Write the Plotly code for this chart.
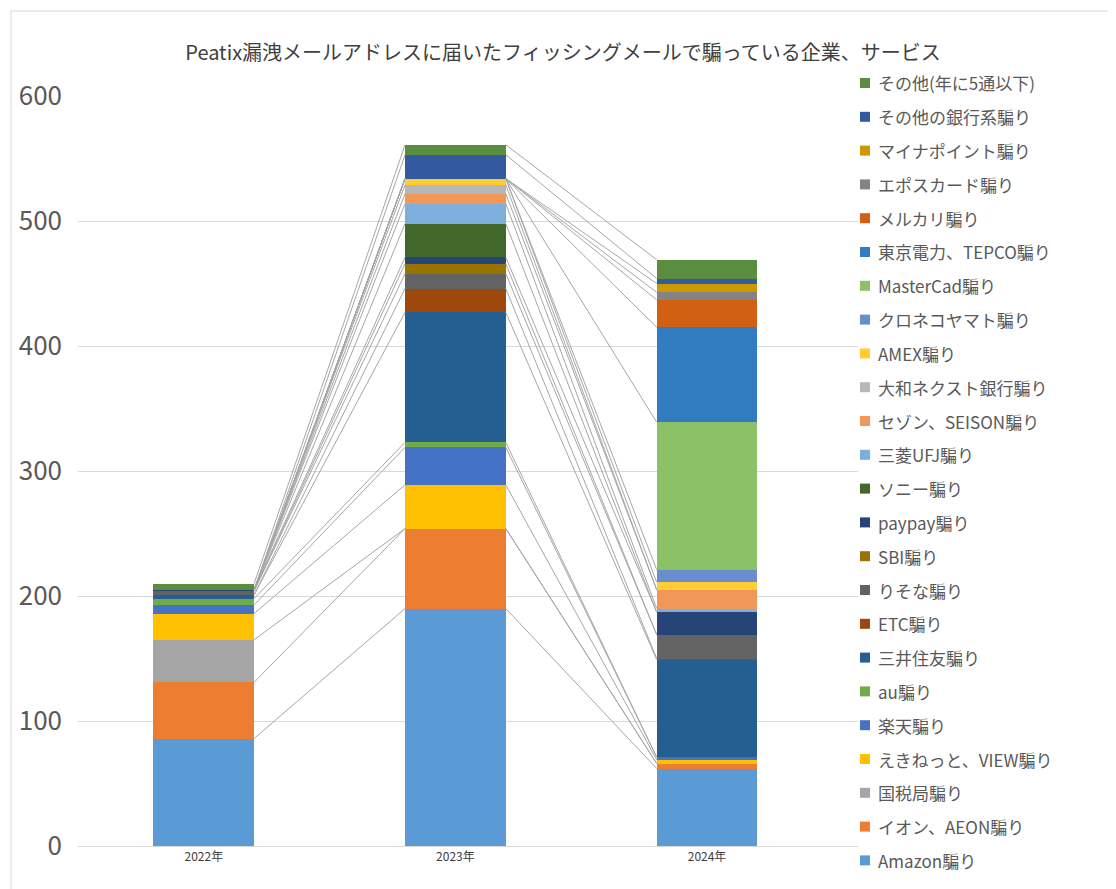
import plotly.graph_objects as go

years = ["2022年", "2023年", "2024年"]

names = ["Amazon騙り", "イオン、AEON騙り", "国税局騙り", "えきねっと、VIEW騙り", "楽天騙り",
         "au騙り", "三井住友騙り", "ETC騙り", "りそな騙り", "SBI騙り", "paypay騙り",
         "ソニー騙り", "三菱UFJ騙り", "セゾン、SEISON騙り", "大和ネクスト銀行騙り", "AMEX騙り",
         "クロネコヤマト騙り", "MasterCad騙り", "東京電力、TEPCO騙り", "メルカリ騙り",
         "エポスカード騙り", "マイナポイント騙り", "その他の銀行系騙り", "その他(年に5通以下)"]

v2022 = [86, 45, 34, 21, 7, 5, 3, 0, 3, 0, 1, 0, 0, 0, 0, 0, 0, 0, 0, 0, 0, 0, 0, 5]
v2023 = [190, 64, 0, 35, 30, 4, 104, 19, 12, 8, 5, 27, 16, 8, 7, 5, 0, 0, 0, 0, 0, 0, 19, 8]
v2024 = [62, 4, 0, 3, 2, 0, 78, 1, 19, 0, 18, 0, 3, 15, 0, 6, 10, 118, 76, 22, 6, 7, 4, 15]

colors = ["#5B9BD5", "#ED7D31", "#A5A5A5", "#FFC000", "#4472C4", "#70AD47", "#255E91",
          "#9E480E", "#636363", "#997300", "#264478", "#43682B", "#7CAFDD", "#F1975A",
          "#B7B7B7", "#FFCD33", "#698ED0", "#8CC168", "#327DC2", "#D26012", "#848484",
          "#CC9A00", "#335AA1", "#5A8E3E"]

W, H = 1116, 889
L, R, T, B = 70, 266, 88, 51
pw, ph = W - L - R, H - T - B

fig = go.Figure()
xs = [0, 1, 2]
half = 0.2

# series lines between bars (Excel style)
cum = [0, 0, 0]
for i in range(len(names)):
    vals = [v2022[i], v2023[i], v2024[i]]
    cum = [c + v for c, v in zip(cum, vals)]
    lx, ly = [], []
    for j in range(2):
        lx += [xs[j] + half, xs[j + 1] - half, None]
        ly += [cum[j], cum[j + 1], None]
    fig.add_trace(go.Scatter(x=lx, y=ly, mode="lines", line=dict(color="#A6A6A6", width=1),
                             showlegend=False, hoverinfo="skip"))

for i, n in enumerate(names):
    fig.add_trace(go.Bar(x=xs, y=[v2022[i], v2023[i], v2024[i]], name=n, showlegend=False,
                         marker=dict(color=colors[i], line=dict(width=0)), width=2 * half))

# hand-made legend, top item = last series
shapes, annots = [], []
for k, i in enumerate(reversed(range(len(names)))):
    py = 75 + k * 33.8
    yc = (H - B - py) / ph
    x0 = (852 - L) / pw
    x1 = (862 - L) / pw
    shapes.append(dict(type="rect", xref="paper", yref="paper", x0=x0, x1=x1,
                       y0=yc - 5 / ph, y1=yc + 5 / ph, fillcolor=colors[i], line=dict(width=0)))
    annots.append(dict(text=names[i], xref="paper", yref="paper", x=(868 - L) / pw, y=yc,
                       xanchor="left", yanchor="middle", showarrow=False,
                       font=dict(size=17, color="#595959")))

shapes.append(dict(type="rect", xref="paper", yref="paper", x0=-(L - 3) / pw, x1=(W - L - 4) / pw,
                   y0=-(B - 5) / ph, y1=(H - B - 3) / ph - 0 + 0,
                   line=dict(color="#D9D9D9", width=1)))

fig.update_layout(
    barmode="stack",
    width=W, height=H,
    showlegend=False,
    paper_bgcolor="white", plot_bgcolor="white",
    margin=dict(l=L, r=R, t=T, b=B, autoexpand=False),
    font=dict(family="Noto Sans CJK JP, Noto Sans, sans-serif", color="#595959"),
    title=dict(text="Peatix漏洩メールアドレスに届いたフィッシングメールで騙っている企業、サービス",
               x=(555 - L) / pw, xref="paper", xanchor="center", y=0.957,
               font=dict(size=20, color="#404040")),
    xaxis=dict(tickmode="array", tickvals=xs, ticktext=years, range=[-0.5, 2.6],
               tickfont=dict(size=12, color="#404040"), showgrid=False, automargin=False,
               showline=True, linecolor="#D9D9D9"),
    yaxis=dict(range=[0, 600], dtick=100, showgrid=True, gridcolor="#D9D9D9", automargin=False,
               tickfont=dict(size=26, color="#595959"), zeroline=False, ticks="",
               ticklabelstandoff=15),
    shapes=shapes,
    annotations=annots,
)

fig.write_html("out.html")
